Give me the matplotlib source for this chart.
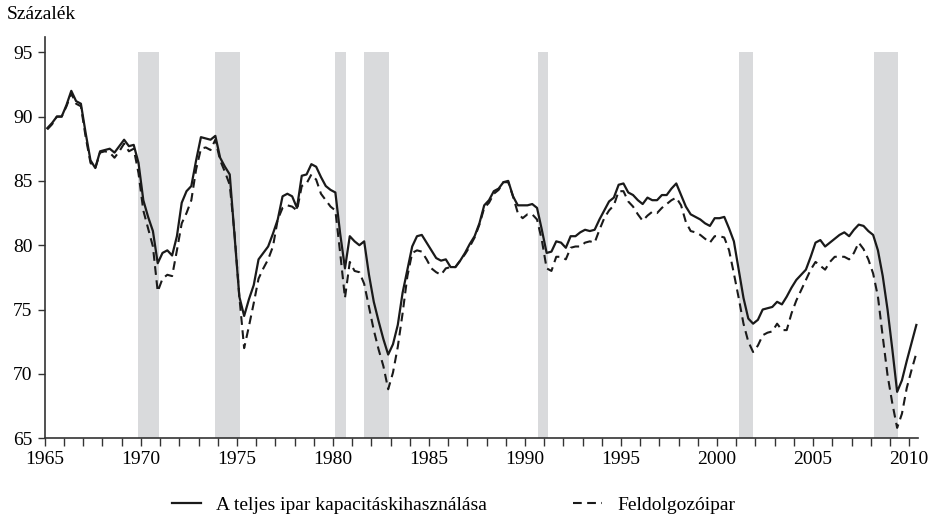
import numpy as np
import matplotlib
matplotlib.use("Agg")
from matplotlib import pyplot as plt
from matplotlib.ticker import MultipleLocator

plt.rcParams['font.family'] = ['Liberation Serif', 'DejaVu Serif']

# quarterly data, 1965Q1 - 2010Q2
start_year = 1965
total = [89.1, 89.5, 90.0, 90.0, 90.9, 92.0, 91.2, 91.0, 88.7, 86.6,
         86.0, 87.3, 87.4, 87.5, 87.2, 87.7, 88.2, 87.7, 87.8, 86.4,
         83.5, 82.2, 81.1, 78.6, 79.4, 79.6, 79.2, 80.7, 83.3, 84.2,
         84.6, 86.6, 88.4, 88.3, 88.2, 88.5, 86.8, 86.1, 85.5, 80.7,
         76.0, 74.5, 75.8, 76.9, 78.9, 79.4, 79.9, 80.9, 82.0, 83.8,
         84.0, 83.8, 82.9, 85.4, 85.5, 86.3, 86.1, 85.3, 84.6, 84.3,
         84.1, 80.9, 78.2, 80.7, 80.3, 80.0, 80.3, 77.7, 75.6, 74.1,
         72.7, 71.5, 72.3, 73.8, 76.3, 78.1, 79.9, 80.7, 80.8, 80.2,
         79.6, 79.0, 78.8, 78.9, 78.3, 78.3, 78.8, 79.4, 80.1, 80.7,
         81.7, 83.1, 83.5, 84.2, 84.4, 84.9, 85.0, 83.8, 83.1, 83.1,
         83.1, 83.2, 82.9, 81.2, 79.4, 79.5, 80.3, 80.2, 79.8, 80.7,
         80.7, 81.0, 81.2, 81.1, 81.2, 82.0, 82.7, 83.4, 83.7, 84.7,
         84.8, 84.1, 83.9, 83.5, 83.2, 83.7, 83.5, 83.5, 83.9, 83.9,
         84.4, 84.8, 83.9, 83.0, 82.4, 82.2, 82.0, 81.7, 81.5, 82.1,
         82.1, 82.2, 81.3, 80.3, 78.1, 75.9, 74.3, 73.9, 74.2, 75.0,
         75.1, 75.2, 75.6, 75.4, 76.0, 76.7, 77.3, 77.7, 78.1, 79.1,
         80.2, 80.4, 79.9, 80.2, 80.5, 80.8, 81.0, 80.7, 81.2, 81.6,
         81.5, 81.1, 80.8, 79.6, 77.6, 75.0, 71.9, 68.6, 69.5, 71.0,
         72.4, 73.8]
manuf = [89.0, 89.4, 90.0, 90.0, 90.8, 91.8, 91.0, 90.8, 88.4, 86.4,
         86.0, 87.2, 87.3, 87.2, 86.8, 87.3, 87.9, 87.3, 87.5, 85.6,
         82.7, 81.3, 79.9, 76.4, 77.4, 77.7, 77.6, 79.6, 81.7, 82.5,
         83.5, 85.9, 87.5, 87.6, 87.4, 88.2, 86.6, 85.7, 84.7, 80.9,
         76.0, 72.0, 73.7, 75.5, 77.4, 78.2, 78.9, 79.9, 82.0, 82.9,
         83.1, 83.0, 82.7, 84.6, 84.8, 85.5, 85.1, 84.0, 83.5, 83.0,
         82.7, 79.4, 75.9, 78.7, 78.0, 77.9, 77.0, 75.2, 73.4, 71.9,
         70.6, 68.8, 70.1, 72.1, 74.7, 77.6, 79.4, 79.6, 79.5, 78.9,
         78.2, 77.9, 77.7, 78.2, 78.3, 78.3, 78.8, 79.3, 79.9, 80.6,
         81.6, 82.9, 83.3, 84.0, 84.3, 84.9, 84.9, 83.8, 82.5, 82.1,
         82.4, 82.4, 82.0, 80.4, 78.2, 78.0, 79.1, 79.1, 78.9, 79.8,
         79.9, 79.9, 80.2, 80.3, 80.2, 81.2, 82.1, 82.7, 83.1, 84.2,
         84.2, 83.4, 83.0, 82.4, 81.9, 82.3, 82.6, 82.5, 82.9, 83.2,
         83.5, 83.7, 83.1, 81.8, 81.1, 81.0, 80.8, 80.5, 80.2, 80.7,
         80.7, 80.6, 79.6, 77.8, 75.9, 73.9, 72.5, 71.7, 72.2, 73.0,
         73.2, 73.3, 73.9, 73.4, 73.4, 74.7, 75.7, 76.5, 77.3, 78.1,
         78.7, 78.4, 78.1, 78.7, 79.1, 79.1, 79.1, 78.9, 79.4, 80.2,
         79.7, 78.9, 77.8, 76.0, 72.9, 69.9, 67.7, 65.8, 66.9, 68.9,
         70.3, 71.6]

# recession periods (shaded)
rec_start = [1969.83, 1973.85, 1980.08, 1981.6, 1990.68, 2001.15, 2008.15]
rec_end = [1970.92, 1975.15, 1980.67, 1982.9, 1991.18, 2001.88, 2009.42]

labels = ['A teljes ipar kapacitáskihasználása', 'Feldolgozóipar']

t = start_year + 0.125 + 0.25 * np.arange(len(total))

fig = plt.figure(figsize=(9.35, 5.26), dpi=100)
ax = fig.add_axes([0.048, 0.167, 0.934, 0.763])

for a, b in zip(rec_start, rec_end):
    ax.fill_between([a, b], 65, 95, color='#d9dadc', lw=0, zorder=0)

ax.plot(t, total, color='#1a1a1a', lw=1.6, label=labels[0])
ax.plot(t, manuf, color='#1a1a1a', lw=1.5, dashes=(4.2, 2.6), label=labels[1])

ax.set_xlim(1965, 2010.47)
ax.set_ylim(65, 96.2)
ax.set_yticks([65, 70, 75, 80, 85, 90, 95])
ax.xaxis.set_major_locator(MultipleLocator(5))
ax.xaxis.set_minor_locator(MultipleLocator(1))
ax.tick_params(axis='x', which='both', length=6, width=1, color='#333333',
               labelsize=14, pad=3)
ax.tick_params(axis='y', length=5, width=1, color='#333333', labelsize=14, pad=4)
for s in ['top', 'right']:
    ax.spines[s].set_visible(False)
for s in ['left', 'bottom']:
    ax.spines[s].set_color('#333333')
    ax.spines[s].set_linewidth(1.2)

fig.text(0.007, 0.972, 'Százalék', fontsize=14, va='center', ha='left')

fig.legend(loc='center', bbox_to_anchor=(0.485, 0.04), ncol=2, frameon=False,
           fontsize=14, handlelength=1.5, handletextpad=0.8, columnspacing=4.4)

fig.savefig('out.png', dpi=100)
